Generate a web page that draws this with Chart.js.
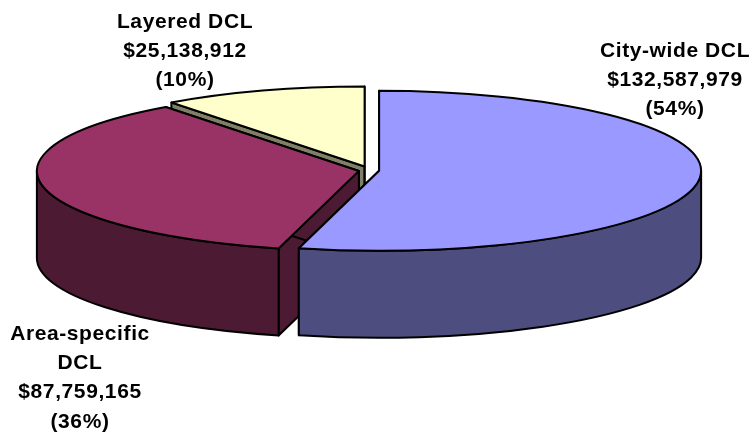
<!DOCTYPE html>
<html lang="en">
<head>
  <meta charset="UTF-8">
  <title>DCL revenue by type</title>
  <script src="https://cdn.jsdelivr.net/npm/chart.js"></script>
  <style>
    body { margin: 0; background: #fff; }
    canvas { display: block; }
  </style>
</head>
<body>
  <canvas id="graphique" width="749" height="432"></canvas>

  <script>
    const categories = ['City-wide DCL', 'Area-specific DCL', 'Layered DCL'];
    const amounts = [132587979, 87759165, 25138912];
    const percents = [54, 36, 10];

    const topColors = ['#9999ff', '#993366', '#ffffcc'];
    const wallColors = ['#4d4d80', '#4d1a33', '#808066'];
    const offsets = [17.6, 21.7, 32.8];

    // text lines are split by hand, same as the original labels
    const labelLines = [['City-wide DCL'], ['Area-specific', 'DCL'], ['Layered DCL']];
    const labelCenters = [[675, 51], [80, 334], [185, 22]];
    const lineStep = 29.3;

    // flattened pie: screen radii of the ellipse and height of the walls
    const RX = 322;
    const RY = 80;
    const DEPTH = 87;

    function pieceGeometry(el) {
      const kx = RX / el.outerRadius;
      const ky = RY / el.outerRadius;
      const off = el.options.offset / 4;
      const mid = (el.startAngle + el.endAngle) / 2;
      return {
        cx: el.x + Math.cos(mid) * off * kx,
        cy: el.y + Math.sin(mid) * off * ky,
        s: el.startAngle,
        e: el.endAngle
      };
    }

    function paint(ctx, color) {
      ctx.fillStyle = color;
      ctx.fill();
      ctx.stroke();
    }

    function drawEdgeWall(ctx, g, angle, color) {
      const x = g.cx + Math.cos(angle) * RX;
      const y = g.cy + Math.sin(angle) * RY;
      ctx.beginPath();
      ctx.moveTo(g.cx, g.cy);
      ctx.lineTo(x, y);
      ctx.lineTo(x, y + DEPTH);
      ctx.lineTo(g.cx, g.cy + DEPTH);
      ctx.closePath();
      paint(ctx, color);
    }

    function drawRimWall(ctx, g, color) {
      const a0 = Math.max(g.s, 0);
      const a1 = Math.min(g.e, Math.PI);
      if (a1 <= a0) return;
      ctx.beginPath();
      ctx.ellipse(g.cx, g.cy, RX, RY, 0, a0, a1);
      ctx.ellipse(g.cx, g.cy + DEPTH, RX, RY, 0, a1, a0, true);
      ctx.closePath();
      paint(ctx, color);
    }

    function drawTop(ctx, g, color) {
      ctx.beginPath();
      ctx.moveTo(g.cx, g.cy);
      ctx.ellipse(g.cx, g.cy, RX, RY, 0, g.s, g.e);
      ctx.closePath();
      paint(ctx, color);
    }

    const flatPie = {
      id: 'flatPie',
      beforeDatasetsDraw(chart) {
        const ctx = chart.ctx;
        const arcs = chart.getDatasetMeta(0).data;
        ctx.save();
        ctx.strokeStyle = '#000';
        ctx.lineWidth = 2;
        ctx.lineJoin = 'round';
        // back to front
        for (let i = arcs.length - 1; i >= 0; i--) {
          const g = pieceGeometry(arcs[i]);
          drawEdgeWall(ctx, g, g.s, wallColors[i]);
          drawEdgeWall(ctx, g, g.e, wallColors[i]);
          drawRimWall(ctx, g, wallColors[i]);
          drawTop(ctx, g, topColors[i]);
        }
        ctx.restore();
        return false;
      },
      afterDraw(chart) {
        const ctx = chart.ctx;
        ctx.save();
        ctx.fillStyle = '#000';
        ctx.font = 'bold 21px "Liberation Sans", Arial, sans-serif';
        ctx.letterSpacing = '0.6px';
        ctx.textAlign = 'center';
        ctx.textBaseline = 'middle';
        categories.forEach((name, i) => {
          const lines = labelLines[i].concat(
            '$' + amounts[i].toLocaleString('en-US'),
            '(' + percents[i] + '%)'
          );
          lines.forEach((line, n) => {
            ctx.fillText(line, labelCenters[i][0], labelCenters[i][1] + n * lineStep);
          });
        });
        ctx.restore();
      }
    };

    new Chart(document.getElementById('graphique'), {
      type: 'pie',
      data: {
        labels: categories,
        datasets: [{
          data: amounts,
          backgroundColor: topColors,
          offset: offsets,
          borderWidth: 0
        }]
      },
      options: {
        responsive: false,
        animation: false,
        layout: { padding: { right: 9, bottom: 91 } },
        plugins: {
          legend: { display: false },
          tooltip: { enabled: false }
        }
      },
      plugins: [flatPie]
    });
  </script>
</body>
</html>
